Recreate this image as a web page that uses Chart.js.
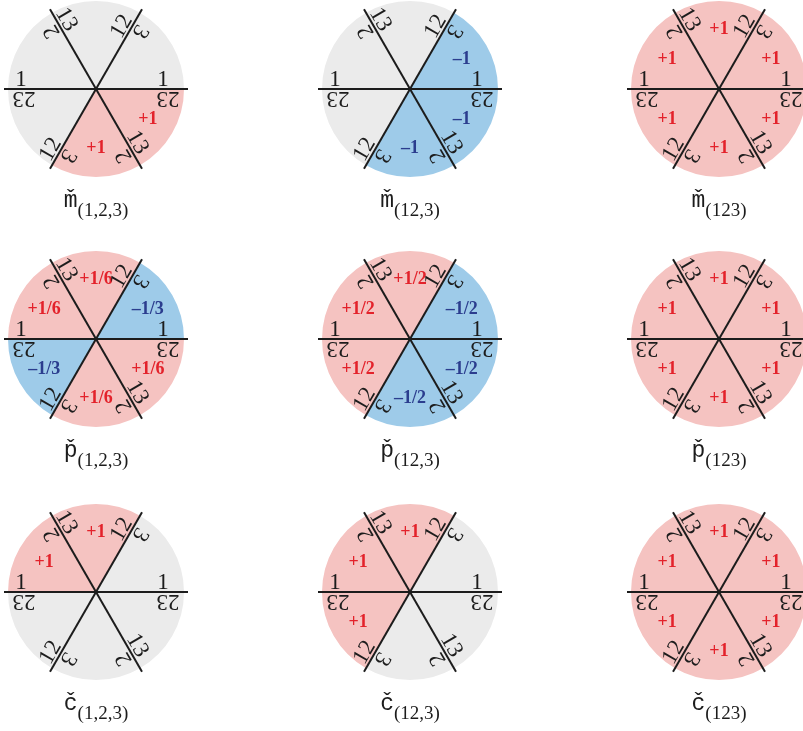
<!DOCTYPE html>
<html>
<head>
<meta charset="utf-8">
<script src="https://cdn.jsdelivr.net/npm/chart.js@4.4.1/dist/chart.umd.min.js"></script>
<style>
  html, body { margin: 0; padding: 0; background: #fff; overflow: hidden; }
  #wrap { position: relative; width: 803px; height: 731px; overflow: hidden; }
  canvas { position: absolute; }
</style>
</head>
<body>
<div id="wrap"></div>
<script>
// panel titles
const letters = ['m', 'p', 'c'];
const subscripts = ['(1,2,3)', '(12,3)', '(123)'];

// six equal sectors, clockwise from 3 o'clock
const sectorWeights = [1, 1, 1, 1, 1, 1];

// labels on each side of the three lines: [upright, flipped]
const spokeLabels = [['1', '23'], ['13', '2'], ['12', '3']];
const spokeAngles = [0, 60, -60];

// sector values per panel (row = letter, column = subscript)
const mValues = [
    ['+1', '+1', '', '', '', ''],
    ['–1', '–1', '', '', '', '–1'],
    ['+1', '+1', '+1', '+1', '+1', '+1']
];
const pValues = [
    ['+1/6', '+1/6', '–1/3', '+1/6', '+1/6', '–1/3'],
    ['–1/2', '–1/2', '+1/2', '+1/2', '+1/2', '–1/2'],
    ['+1', '+1', '+1', '+1', '+1', '+1']
];
const cValues = [
    ['', '', '', '+1', '+1', ''],
    ['', '', '+1', '+1', '+1', ''],
    ['+1', '+1', '+1', '+1', '+1', '+1']
];

const allValues = [mValues, pValues, cValues];

const colX = [96, 410, 719];
const rowY = [89, 339, 592];
const radius = 88;
const CW = 220, CH = 250, PAD = 22;

const FILL_POS = '#f5c3c1';
const FILL_NEG = '#9ecbe9';
const FILL_ZERO = '#ebebeb';
const TEXT_POS = '#e3222b';
const TEXT_NEG = '#2b3d8e';
const INK = '#1c1c1c';

function fillFor(v) {
    if (v.startsWith('+')) return FILL_POS;
    if (v.startsWith('–')) return FILL_NEG;
    return FILL_ZERO;
}

const wheelPlugin = {
    id: 'wheel',
    afterDatasetsDraw(chart) {
        const ctx = chart.ctx;
        const arcs = chart.getDatasetMeta(0).data;
        const cx = arcs[0].x, cy = arcs[0].y;
        const r = arcs[0].outerRadius;
        const values = chart.options.plugins.wheel.values;

        // sector values
        ctx.save();
        ctx.font = 'bold 18px "Liberation Serif"';
        ctx.textAlign = 'center';
        ctx.textBaseline = 'middle';
        arcs.forEach((arc, i) => {
            const v = values[i];
            if (!v) return;
            const mid = (arc.startAngle + arc.endAngle) / 2;
            ctx.fillStyle = v.startsWith('+') ? TEXT_POS : TEXT_NEG;
            ctx.fillText(v, cx + Math.cos(mid) * r * 0.68, cy + Math.sin(mid) * r * 0.68);
        });
        ctx.restore();

        // lines and their labels
        spokeAngles.forEach((deg, k) => {
            ctx.save();
            ctx.translate(cx, cy);
            ctx.rotate(deg * Math.PI / 180);
            ctx.strokeStyle = INK;
            ctx.lineWidth = 2;
            ctx.beginPath();
            ctx.moveTo(-r - 4, 0);
            ctx.lineTo(r + 4, 0);
            ctx.stroke();

            ctx.fillStyle = INK;
            ctx.font = '23px "Liberation Serif"';
            ctx.textAlign = 'center';
            ctx.textBaseline = 'alphabetic';
            [1, -1].forEach(end => {
                ctx.save();
                ctx.translate(end * 71 - 4, 0);
                ctx.fillText(spokeLabels[k][0], 0, -3);
                ctx.restore();
                ctx.save();
                ctx.translate(end * 72, 0);
                ctx.rotate(Math.PI);
                ctx.fillText(spokeLabels[k][1], 0, -3);
                ctx.restore();
            });
            ctx.restore();
        });
    },
    afterDraw(chart) {
        const ctx = chart.ctx;
        const opts = chart.options.plugins.wheel;
        const arc = chart.getDatasetMeta(0).data[0];
        const cx = arc.x, cy = arc.y;

        ctx.save();
        ctx.fillStyle = INK;
        ctx.textBaseline = 'alphabetic';
        ctx.textAlign = 'left';
        const mainFont = '23px "Liberation Mono"';
        const subFont = '19px "Liberation Serif"';
        ctx.font = mainFont;
        const wl = ctx.measureText(opts.letter).width;
        ctx.font = subFont;
        const ws = ctx.measureText(opts.sub).width;
        const x0 = cx - (wl + ws) / 2;

        ctx.font = mainFont;
        ctx.fillText(opts.letter, x0, cy + 118);
        ctx.textAlign = 'center';
        ctx.fillText('ˇ', x0 + wl / 2, cy + 117);
        ctx.textAlign = 'left';
        ctx.font = subFont;
        ctx.fillText(opts.sub, x0 + wl, cy + 127);
        ctx.restore();
    }
};

const wrap = document.getElementById('wrap');

letters.forEach((letter, row) => {
    subscripts.forEach((sub, col) => {
        const values = allValues[row][col];
        const canvas = document.createElement('canvas');
        canvas.width = CW;
        canvas.height = CH;
        canvas.style.left = (colX[col] - CW / 2) + 'px';
        canvas.style.top = (rowY[row] - PAD - radius) + 'px';
        wrap.appendChild(canvas);

        new Chart(canvas, {
            type: 'pie',
            data: {
                labels: sectorWeights.map((w, i) => 'S' + i),
                datasets: [{
                    data: sectorWeights,
                    backgroundColor: values.map(fillFor),
                    borderWidth: 0,
                    hoverOffset: 0
                }]
            },
            options: {
                responsive: false,
                animation: false,
                events: [],
                rotation: 90,
                layout: {
                    padding: { left: PAD, right: PAD, top: PAD, bottom: CH - PAD - 2 * radius }
                },
                plugins: {
                    legend: { display: false },
                    tooltip: { enabled: false },
                    wheel: { values: values, letter: letter, sub: sub }
                }
            },
            plugins: [wheelPlugin]
        });
    });
});
</script>
</body>
</html>
